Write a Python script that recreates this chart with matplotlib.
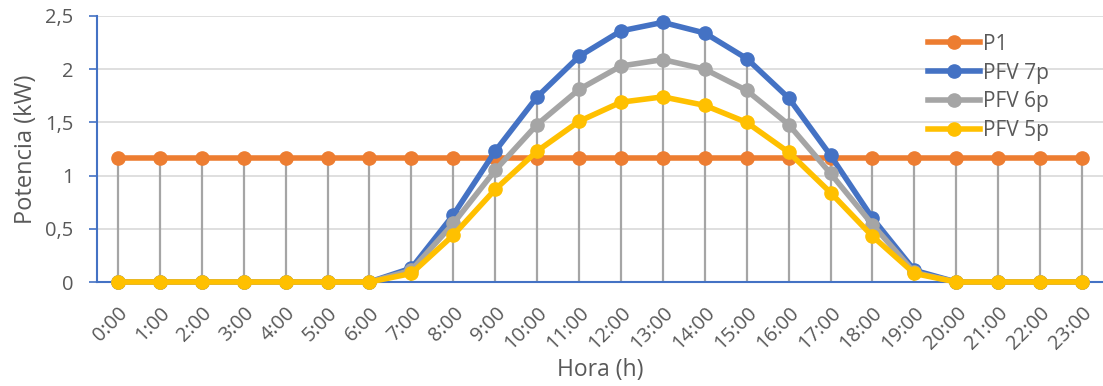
import matplotlib.pyplot as plt
import numpy as np

horas = ['%d:00' % h for h in range(24)]
p1 = [1.17] * 24
pfv_7p = [0, 0, 0, 0, 0, 0, 0, 0.13, 0.63, 1.23, 1.74, 2.12, 2.36, 2.44, 2.34, 2.10,
          1.73, 1.19, 0.60, 0.11, 0, 0, 0, 0]
pfv_6p = [0, 0, 0, 0, 0, 0, 0, 0.11, 0.55, 1.05, 1.48, 1.81, 2.03, 2.09, 2.00, 1.80,
          1.48, 1.02, 0.54, 0.09, 0, 0, 0, 0]
pfv_5p = [0, 0, 0, 0, 0, 0, 0, 0.08, 0.44, 0.87, 1.23, 1.51, 1.69, 1.74, 1.66, 1.50,
          1.22, 0.84, 0.43, 0.08, 0, 0, 0, 0]

plt.rcParams['font.family'] = ['Open Sans', 'DejaVu Sans']
txt = '#595959'

fig = plt.figure(figsize=(11.03, 3.86), dpi=100)
ax = fig.add_axes([97 / 1103, 1 - 282 / 386, 1006 / 1103, 266 / 386])

x = np.arange(len(horas))
tops = np.max([p1, pfv_7p, pfv_6p, pfv_5p], axis=0)
ax.vlines(x, 0, tops, color='#A5A5A5', lw=1.6, zorder=2)

series = [('P1', p1, '#ED7D31'), ('PFV 7p', pfv_7p, '#4472C4'),
          ('PFV 6p', pfv_6p, '#A5A5A5'), ('PFV 5p', pfv_5p, '#FFC000')]
for name, vals, c in series:
    ax.plot(x, vals, color=c, lw=4, marker='o', ms=9.5, label=name, zorder=3,
            clip_on=False)

ax.set_xlim(-0.5, 23.5)
ax.set_ylim(0, 2.5)
ax.set_yticks([0, 0.5, 1, 1.5, 2, 2.5])
ax.set_yticklabels(['0', '0,5', '1', '1,5', '2', '2,5'])
ax.set_xticks(x)
ax.set_xticklabels(horas, rotation=45, ha='right', rotation_mode='anchor')
ax.grid(axis='y', color='#D9D9D9', lw=1.2, zorder=0)
ax.set_axisbelow(True)

for s in ['top', 'right']:
    ax.spines[s].set_visible(False)
for s in ['left', 'bottom']:
    ax.spines[s].set_color('#4472C4')
    ax.spines[s].set_linewidth(1.5)
ax.tick_params(axis='y', colors='#4472C4', labelcolor=txt, labelsize=14.5, length=6, width=1.2, pad=11)
ax.tick_params(axis='x', length=0, labelcolor=txt, labelsize=14.5, pad=15)

ax.set_ylabel('Potencia (kW)', color=txt, fontsize=17, labelpad=5)
ax.set_xlabel('Hora (h)', color=txt, fontsize=16.5)
ax.xaxis.set_label_coords(0.5, -0.285)

leg = ax.legend(loc='upper left', bbox_to_anchor=(0.818, 0.965), frameon=False,
                fontsize=15, labelcolor=txt, handlelength=2.5, handletextpad=0.15,
                labelspacing=0.38, borderaxespad=0)

fig.savefig('out.png', dpi=100)
